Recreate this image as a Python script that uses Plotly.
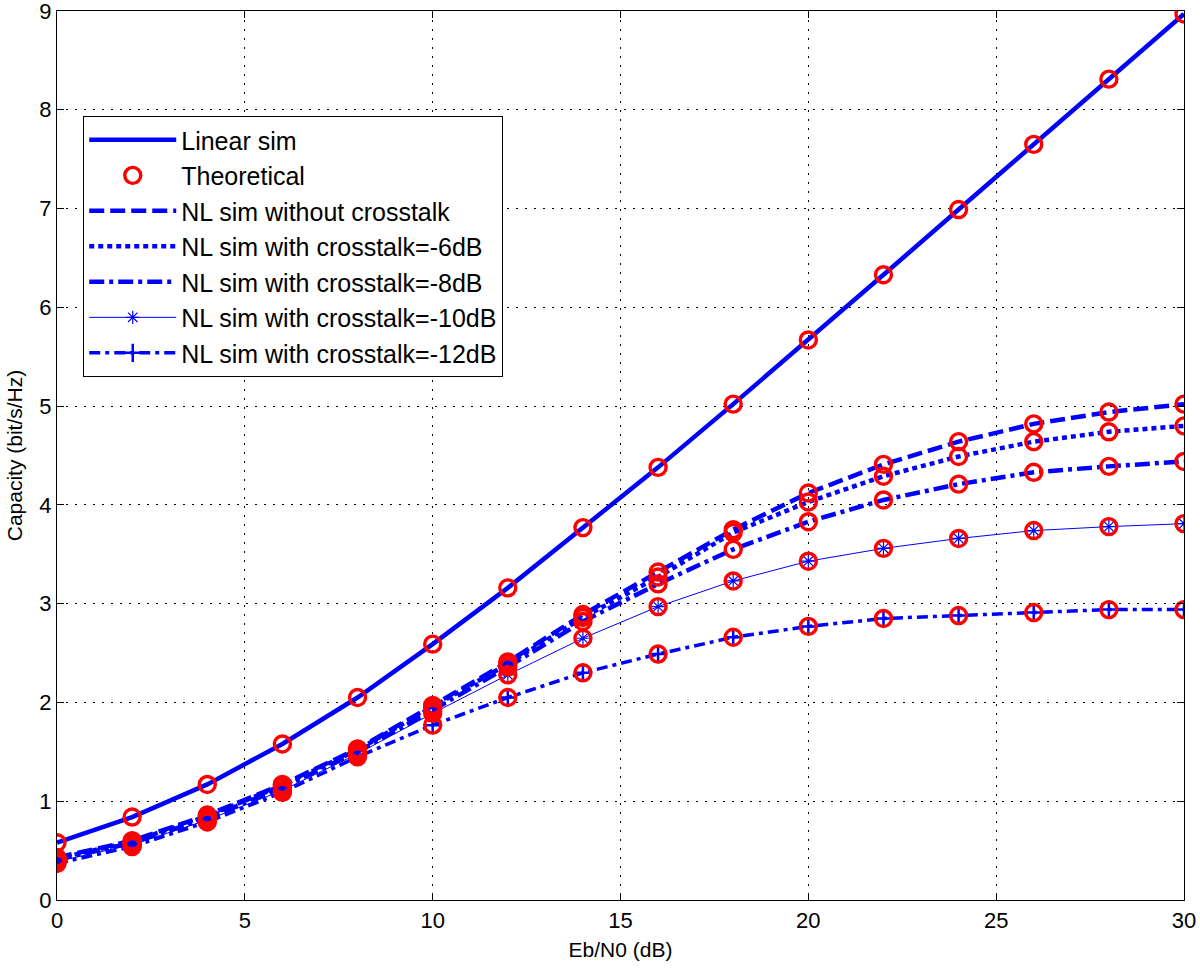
import plotly.graph_objects as go

ebn0 = [0, 2, 4, 6, 8, 10, 12, 14, 16, 18, 20, 22, 24, 26, 28, 30]

linear_sim = [0.58, 0.84, 1.17, 1.58, 2.05, 2.59, 3.16, 3.77, 4.38, 5.02, 5.67, 6.33, 6.99, 7.65, 8.31, 8.97]
nl_no_xt = [0.43, 0.60, 0.86, 1.17, 1.53, 1.97, 2.41, 2.89, 3.32, 3.75, 4.12, 4.41, 4.64, 4.82, 4.94, 5.02]
nl_xt_6 = [0.42, 0.59, 0.85, 1.16, 1.52, 1.95, 2.39, 2.86, 3.27, 3.72, 4.03, 4.29, 4.49, 4.64, 4.74, 4.80]
nl_xt_8 = [0.41, 0.58, 0.83, 1.14, 1.50, 1.92, 2.36, 2.82, 3.20, 3.55, 3.83, 4.05, 4.21, 4.33, 4.39, 4.44]
nl_xt_10 = [0.39, 0.56, 0.81, 1.11, 1.48, 1.89, 2.28, 2.65, 2.97, 3.23, 3.43, 3.56, 3.66, 3.74, 3.78, 3.81]
nl_xt_12 = [0.37, 0.54, 0.79, 1.09, 1.45, 1.77, 2.05, 2.30, 2.49, 2.66, 2.77, 2.85, 2.88, 2.91, 2.94, 2.94]

x_ticks = [0, 5, 10, 15, 20, 25, 30]
y_ticks = [0, 1, 2, 3, 4, 5, 6, 7, 8, 9]

BLUE = "#0000ff"
RED = "#ff0000"
FONT = "Liberation Sans, Arial, sans-serif"

fig = go.Figure()

fig.add_trace(go.Scatter(x=ebn0, y=linear_sim, mode="lines", name="Linear sim",
                         line=dict(color=BLUE, width=4.5), legendrank=1))
fig.add_trace(go.Scatter(x=ebn0, y=nl_no_xt, mode="lines", name="NL sim without crosstalk",
                         line=dict(color=BLUE, width=4.5, dash="15px,6px"), legendrank=3))
fig.add_trace(go.Scatter(x=ebn0, y=nl_xt_6, mode="lines", name="NL sim with crosstalk=-6dB",
                         line=dict(color=BLUE, width=4.5, dash="5px,4px"), legendrank=4))
fig.add_trace(go.Scatter(x=ebn0, y=nl_xt_8, mode="lines", name="NL sim with crosstalk=-8dB",
                         line=dict(color=BLUE, width=4.5, dash="15px,5px,4px,5px"), legendrank=5))
fig.add_trace(go.Scatter(x=ebn0, y=nl_xt_10, mode="lines+markers", name="NL sim with crosstalk=-10dB",
                         line=dict(color=BLUE, width=1),
                         marker=dict(symbol="asterisk-open", size=11, color=BLUE,
                                     line=dict(color=BLUE, width=1.2)), legendrank=6))
fig.add_trace(go.Scatter(x=ebn0, y=nl_xt_12, mode="lines+markers", name="NL sim with crosstalk=-12dB",
                         line=dict(color=BLUE, width=3.5, dash="11px,5px,4px,5px"),
                         marker=dict(symbol="cross-thin-open", size=13, color=BLUE,
                                     line=dict(color=BLUE, width=2.5)), legendrank=7))

theo_x = ebn0 * 6
theo_y = linear_sim + nl_no_xt + nl_xt_6 + nl_xt_8 + nl_xt_10 + nl_xt_12
fig.add_trace(go.Scatter(x=theo_x, y=theo_y, mode="markers", name="Theoretical",
                         marker=dict(symbol="circle-open", size=16, color=RED,
                                     line=dict(color=RED, width=3.4)), legendrank=2))

axis_common = dict(
    showline=True, linecolor="black", linewidth=1.2, mirror="ticks",
    ticks="inside", ticklen=7, tickcolor="black", tickwidth=1.2,
    showgrid=True, gridcolor="black", gridwidth=1.3, griddash="2px,7px",
    zeroline=False, automargin=False, ticklabeloverflow="allow",
    tickfont=dict(family=FONT, size=22, color="black"),
)

fig.update_xaxes(range=[0, 30], tickvals=x_ticks, ticktext=[str(v) for v in x_ticks],
                 title=dict(text="Eb/N0 (dB)", font=dict(family=FONT, size=21, color="black"), standoff=10),
                 **axis_common)
fig.update_yaxes(range=[0, 9], tickvals=y_ticks, ticktext=[str(v) for v in y_ticks],
                 title=dict(text="Capacity (bit/s/Hz)", font=dict(family=FONT, size=21, color="black"), standoff=10),
                 **axis_common)

fig.update_layout(
    width=1200, height=970,
    margin=dict(l=57, r=16, t=11, b=70),
    paper_bgcolor="white", plot_bgcolor="white",
    font=dict(family=FONT, size=21, color="black"),
    legend=dict(x=0.0231, y=0.882, xanchor="left", yanchor="top",
                bgcolor="white", bordercolor="black", borderwidth=1.2,
                font=dict(family=FONT, size=25, color="black"),
                itemwidth=87, tracegroupgap=0),
    showlegend=True,
)

fig.write_html("out.html", config={"displayModeBar": False},
               post_script="document.body.style.margin='0';document.body.style.overflow='hidden';")
